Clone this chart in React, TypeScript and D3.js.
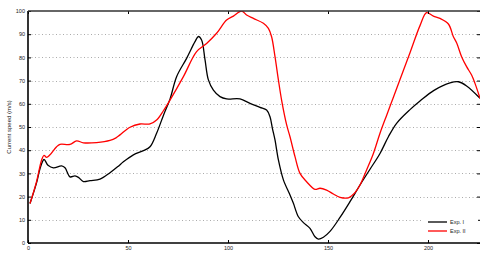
import { useEffect, useRef } from 'react';
import * as d3 from 'd3';

// Exp. I (black) — time vs current speed
const expIx = [1, 4.3, 6, 8, 10, 12.7, 16.8, 18.5, 21, 23.5, 25.2, 27.7, 31, 36, 41, 45, 47.7, 52.7, 57.7, 61, 64.3, 67.7, 71, 74.3, 79.3, 83.5, 85.2, 86.8, 88.5, 90.2, 92.7, 96, 99.3, 106, 111, 116, 119.3, 121, 122.2, 123.5, 125.2, 127.7, 131, 132.7, 135.2, 137.7, 141, 143.5, 145.2, 147.7, 151, 156, 161, 166, 171, 176, 180.2, 184.3, 191, 196, 203, 211, 215.2, 219.3, 226];
const expIy = [17, 26, 32, 36, 33.5, 32.4, 33.2, 32.4, 28.5, 28.9, 28.3, 26.5, 26.9, 27.5, 30.3, 33, 35, 38, 39.8, 41.5, 47.3, 55, 62, 71.7, 79.6, 86.8, 89, 87.5, 79, 70.3, 65.9, 63.1, 62.1, 62.1, 60.2, 58.5, 57.3, 54.4, 49.4, 44.4, 35.8, 27.2, 20.7, 17.1, 11.3, 8.8, 6.3, 2.7, 1.7, 2.5, 5, 11, 17.8, 25, 31.8, 38.6, 45.8, 51.6, 57.5, 61.2, 65.8, 69, 69.5, 67.7, 62.4];

// Exp. II (red)
const expIIx = [1, 4.3, 6.8, 8, 9.3, 11, 14.3, 16, 21, 24.3, 27.7, 34.3, 41, 44, 46, 51, 56, 61, 64.3, 67.7, 71, 77.7, 84.3, 89.3, 94.3, 99.3, 102.7, 106.8, 109.3, 112.7, 117.7, 120.2, 121.8, 123.5, 125.2, 126.8, 129.3, 131, 133.5, 136, 139.3, 143.5, 146, 149.3, 152.7, 156, 160.2, 163.5, 166, 169.3, 172.7, 176, 179.3, 182.7, 186, 191, 196, 199.3, 202.7, 206, 210.2, 212.7, 214.3, 216.8, 219.3, 221.8, 223.5, 226];
const expIIy = [17, 26.5, 35.8, 37.8, 36.9, 38, 41.5, 42.5, 42.5, 44, 43.2, 43.3, 44.2, 45.3, 46.6, 49.9, 51.3, 51.3, 53, 57, 61.6, 71.7, 82.5, 86, 90.4, 96.1, 97.8, 100, 98.3, 96.8, 94.7, 92.5, 88.9, 80.3, 70.3, 61.6, 51, 45.8, 37.2, 30, 26.4, 23.1, 23.6, 22.8, 21.1, 19.7, 19.5, 21.7, 25, 31.5, 38.6, 47.3, 55, 62.8, 70.5, 82, 93.7, 99.3, 97.8, 96.8, 94.4, 88.9, 86.3, 80.3, 76, 72.4, 68.8, 62.4];

const xTicks = [0, 50, 100, 150, 200];
const yTicks = [0, 10, 20, 30, 40, 50, 60, 70, 80, 90, 100];
const seriesNames = ['Exp. I', 'Exp. II'];
const seriesColors = ['#000000', '#ff0000'];

const Chart = () => {
  const ref = useRef<SVGSVGElement>(null);

  useEffect(() => {
    const svg = d3.select(ref.current);
    svg.selectAll('*').remove();

    const margin = { top: 11, right: 0, bottom: 10, left: 28 };
    const W = 480, H = 253;
    const width = W - margin.left - margin.right;
    const height = H - margin.top - margin.bottom;

    const g = svg.append('g').attr('transform', `translate(${margin.left},${margin.top})`);

    const x = d3.scaleLinear().domain([0, 226]).range([0, width]);
    const y = d3.scaleLinear().domain([0, 100]).range([height, 0]);

    // dotted grid
    g.append('g')
      .selectAll('line')
      .data(yTicks.slice(1, -1))
      .join('line')
      .attr('x1', 0).attr('x2', width)
      .attr('y1', d => Math.round(y(d)) + 0.5).attr('y2', d => Math.round(y(d)) + 0.5)
      .attr('stroke', '#ababab')
      .attr('stroke-width', 1)
      .attr('stroke-dasharray', '1,2.5');

    const line = d3.line<[number, number]>()
      .x(d => x(d[0]))
      .y(d => y(d[1]))
      .curve(d3.curveCatmullRom.alpha(0.5));

    const series = [
      d3.zip(expIx, expIy) as [number, number][],
      d3.zip(expIIx, expIIy) as [number, number][],
    ];

    g.append('defs').append('clipPath').attr('id', 'plot-clip')
      .append('rect').attr('x', 0).attr('y', 0).attr('width', width).attr('height', height);

    series.forEach((pts, i) => {
      g.append('path')
        .datum(pts)
        .attr('clip-path', 'url(#plot-clip)')
        .attr('fill', 'none')
        .attr('stroke', seriesColors[i])
        .attr('stroke-width', 1.3)
        .attr('d', line);
    });

    const fontFamily = 'Liberation Sans, Arial, sans-serif';

    // axes with inward ticks
    const left = g.append('g')
      .call(d3.axisLeft(y).tickValues(yTicks).tickSizeInner(-3).tickSizeOuter(0).tickPadding(3));
    const right = g.append('g').attr('transform', `translate(${width},0)`)
      .call(d3.axisRight(y).tickValues(yTicks).tickSizeInner(-3).tickSizeOuter(0).tickFormat(() => ''));
    const bottom = g.append('g').attr('transform', `translate(0,${height})`)
      .call(d3.axisBottom(x).tickValues(xTicks).tickSizeInner(-3).tickSizeOuter(0).tickPadding(3));
    const top = g.append('g')
      .call(d3.axisTop(x).tickValues(xTicks).tickSizeInner(-3).tickSizeOuter(0).tickFormat(() => ''));

    [left, right, bottom, top].forEach(a => {
      a.select('.domain').remove();
      a.selectAll('.tick line').attr('stroke', '#000').attr('stroke-width', 1);
      a.selectAll('.tick text')
        .attr('font-family', fontFamily)
        .attr('font-size', 5.5)
        .attr('fill', '#222');
    });

    // frame
    g.append('line').attr('x1', 0).attr('x2', 0).attr('y1', 0).attr('y2', height)
      .attr('stroke', '#000').attr('stroke-width', 1.6);
    g.append('line').attr('x1', 0).attr('x2', width).attr('y1', height).attr('y2', height)
      .attr('stroke', '#000').attr('stroke-width', 1.6);
    g.append('line').attr('x1', 0).attr('x2', width).attr('y1', 0).attr('y2', 0)
      .attr('stroke', '#333').attr('stroke-width', 1.6);

    // y title
    svg.append('text')
      .attr('transform', `translate(11,${margin.top + height / 2}) rotate(-90)`)
      .attr('text-anchor', 'middle')
      .attr('font-family', fontFamily)
      .attr('font-size', 6)
      .attr('fill', '#222')
      .text('Current speed (m/s)');

    // legend
    const lg = g.append('g').attr('transform', `translate(${width - 58},${height - 29})`);
    lg.append('rect').attr('x', 0).attr('y', 0).attr('width', 56).attr('height', 24).attr('fill', '#fff');
    seriesNames.forEach((name, i) => {
      const yy = 8 + i * 9;
      lg.append('line').attr('x1', 6).attr('x2', 25).attr('y1', yy).attr('y2', yy)
        .attr('stroke', seriesColors[i]).attr('stroke-width', 1.3);
      lg.append('text').attr('x', 28).attr('y', yy).attr('dy', '0.35em')
        .attr('font-family', fontFamily).attr('font-size', 5.5).attr('fill', '#222')
        .text(name);
    });
  }, []);

  return <svg ref={ref} width={480} height={253} style={{ position: 'absolute', left: 0, top: 0 }} />;
};

export default function App() {
  return <Chart />;
}
